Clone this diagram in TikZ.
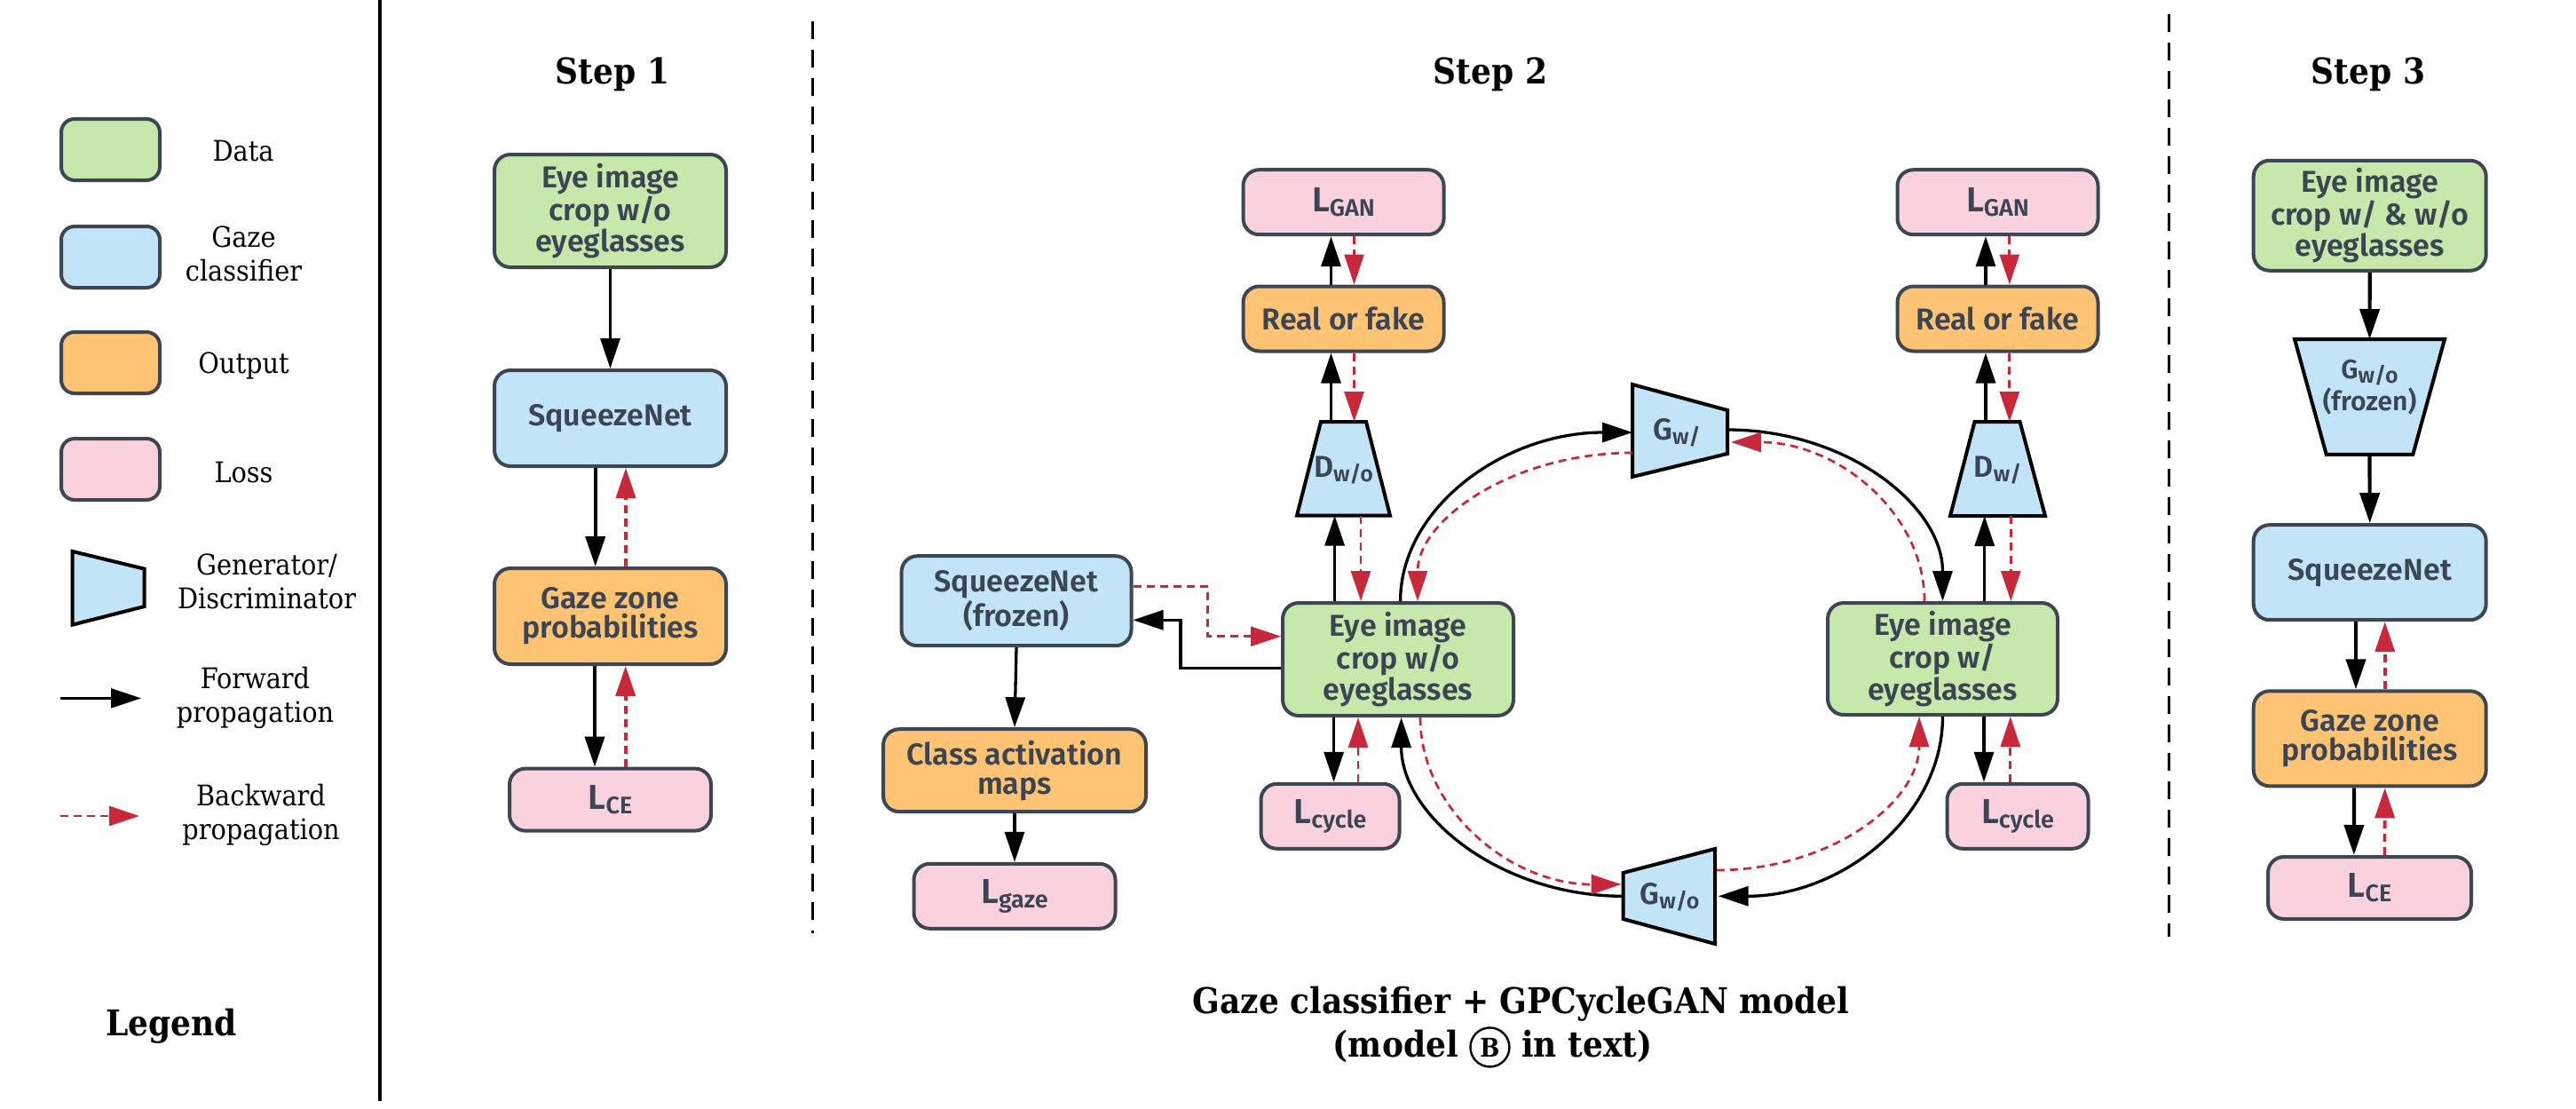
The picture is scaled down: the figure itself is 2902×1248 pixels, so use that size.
\documentclass[tikz,border=0pt]{standalone}
\usepackage{fontspec}
\usetikzlibrary{arrows.meta}
\newfontfamily\bxf{Fira Sans SemiBold}
\newfontfamily\lgf{DejaVu Serif Condensed}
\definecolor{cgreen}{RGB}{198,232,171}
\definecolor{cblue}{RGB}{193,228,246}
\definecolor{corange}{RGB}{254,196,116}
\definecolor{cpink}{RGB}{249,210,222}
\definecolor{bdr}{RGB}{61,70,83}
\definecolor{txt}{RGB}{59,69,83}
\definecolor{cred}{RGB}{201,40,58}
\newcommand\Ls[1]{{\fontsize{19.5}{19.5}\selectfont L}\raisebox{-2.4pt}{\fontsize{13.5}{13.5}\selectfont #1}}
\newcommand\Gs[2]{#1\raisebox{-2.5pt}{\fontsize{12.5}{12.5}\selectfont #2}}
\newcommand\circB{\tikz[baseline=(cb.base)]\node[draw=black,circle,minimum size=22pt,inner sep=0pt,line width=1.2pt](cb){\fontsize{14.5}{14.5}\selectfont B};}
\begin{document}
\begin{tikzpicture}[x=0.5pt,y=-0.5pt,
 box/.style={draw=bdr,line width=2pt,rounded corners=9pt,text=txt,font=\bxf\fontsize{17}{16.5}\selectfont,align=center,inner sep=0pt},
 gbox/.style={box,fill=cgreen}, bbox/.style={box,fill=cblue},
 obox/.style={box,fill=corange}, pbox/.style={box,fill=cpink},
 trap/.style={draw=black,line width=2pt,fill=cblue},
 gt/.style={text=txt,font=\bxf\fontsize{17}{17}\selectfont,align=center,inner sep=0pt},
 fw/.style={draw=black,line width=1.65pt,-{Triangle[length=17pt,width=11pt]}},
 fwb/.style={fw,line width=2.1pt},
 bw/.style={draw=cred,line width=1.35pt,dash pattern=on 4.5pt off 3pt,-{Triangle[length=17pt,width=11pt]}},
 bwb/.style={bw,line width=1.9pt},
 lgt/.style={font=\lgf\fontsize{16}{19}\selectfont,align=center,inner sep=0pt},
 ttl/.style={font=\lgf\bfseries\fontsize{20}{24}\selectfont,inner sep=0pt},
 divd/.style={draw=black,line width=1.5pt,dash pattern=on 10pt off 6pt}]
\useasboundingbox (0,0) rectangle (2902,1248);
% ---------------- Legend ----------------
\node[gbox,minimum width=55.5pt,minimum height=34.5pt,rounded corners=7.5pt] (lgd) at (124.5,168.5) {};
\node[bbox,minimum width=55.5pt,minimum height=34.5pt,rounded corners=7.5pt] (lgg) at (124.5,289.5) {};
\node[obox,minimum width=55.5pt,minimum height=34.5pt,rounded corners=7.5pt] (lgo) at (124.5,408.5) {};
\node[pbox,minimum width=55.5pt,minimum height=34.5pt,rounded corners=7.5pt] (lgl) at (124.5,528.5) {};
\node[lgt,anchor=base] (tdata) at (274,181.7) {Data};
\node[lgt] (tgaze) at (274.5,286) {Gaze\\classifier};
\node[lgt,anchor=base] (tout) at (274.5,420.7) {Output};
\node[lgt,anchor=base] (tloss) at (274.5,543.6) {Loss};
\draw[trap] (81.7,621) -- (162.7,640.7) -- (162.7,683) -- (81.7,703.6) -- cycle;
\node[lgt] (tgen) at (300.5,655) {Generator/\\Discriminator};
\coordinate (fa1) at (68,786.4); \coordinate (fa2) at (159,786.4);
\draw[fw,line width=1.2pt] (fa1) -- (fa2);
\node[lgt] (tfwd) at (287.5,786.3) {Forward\\propagation};
\coordinate (ba1) at (68,919); \coordinate (ba2) at (157,919);
\draw[bw,line width=1.4pt] (ba1) -- (ba2);
\node[lgt] (tbwd) at (294,917.5) {Backward\\propagation};
\node[ttl,anchor=base] (tleg) at (193,1166) {Legend};
\draw[line width=1.7pt] (428,0) -- (428,1240);
% ---------------- Step 1 ----------------
\node[ttl,anchor=base] (t1) at (690,94) {Step 1};
\node[gbox,minimum width=130.5pt,minimum height=63.5pt] (s1in) at (687.5,237.5) {Eye image\\crop w/o\\eyeglasses};
\node[bbox,minimum width=130.5pt,minimum height=54pt] (s1sn) at (687.5,471) {SqueezeNet};
\node[obox,minimum width=130.5pt,minimum height=54pt] (s1gz) at (687.5,694) {Gaze zone\\probabilities};
\node[pbox,minimum width=113.5pt,minimum height=35pt] (s1ce) at (687.5,900.6) {\Ls{CE}};
\draw[fw] (s1in) -- (s1sn);
\draw[fwb] ([xshift=-8.4pt]s1sn.south) -- ([xshift=-8.4pt]s1gz.north);
\draw[bwb] ([xshift=8.75pt]s1gz.north) -- ([xshift=8.75pt]s1sn.south);
\draw[fwb] ([xshift=-8.75pt]s1gz.south) -- ([xshift=-8.75pt]s1ce.north);
\draw[bwb] ([xshift=8.6pt]s1ce.north) -- ([xshift=8.6pt]s1gz.south);
\draw[divd] (915.7,24) -- (915.7,1050.6);
% ---------------- Step 2 ----------------
\node[ttl,anchor=base] (t2) at (1679,94) {Step 2};
% left discriminator column
\node[pbox,minimum width=113pt,minimum height=36.5pt] (lganL) at (1513.5,227.7) {\Ls{GAN}};
\node[obox,minimum width=113pt,minimum height=36.5pt] (rofL) at (1513.5,359) {Real or fake};
\draw[trap] (1488,475) -- (1539,475) -- (1566,580.7) -- (1461,580.7) -- cycle;
\node[gt] (dwo) at (1513.5,530) {\Gs{D}{w/o}};
\coordinate (dwoT) at (1513.5,475); \coordinate (dwoB) at (1513.5,580.7);
% right discriminator column
\node[pbox,minimum width=113pt,minimum height=36.5pt] (lganR) at (2250.5,227.7) {\Ls{GAN}};
\node[obox,minimum width=113pt,minimum height=36.5pt] (rofR) at (2250.5,359) {Real or fake};
\draw[trap] (2224.5,475) -- (2275.5,475) -- (2304,581) -- (2197,581) -- cycle;
\node[gt] (dw) at (2250.5,530) {\Gs{D}{w/}};
\coordinate (dwT) at (2250.5,475); \coordinate (dwB) at (2250.5,581);
% other boxes
\node[bbox,minimum width=129.5pt,minimum height=50.5pt] (snf) at (1145,676.7) {SqueezeNet\\(frozen)};
\node[obox,minimum width=148pt,minimum height=46.5pt] (cam) at (1143,867.7) {Class activation\\maps};
\node[pbox,minimum width=113.5pt,minimum height=36.5pt] (lgz) at (1143,1009.3) {\Ls{gaze}};
\node[gbox,minimum width=130pt,minimum height=63.5pt] (eyewo) at (1575,742.5) {Eye image\\crop w/o\\eyeglasses};
\node[gbox,minimum width=129.5pt,minimum height=63pt] (eyew) at (2188.5,742) {Eye image\\crop w/\\eyeglasses};
\node[pbox,minimum width=78pt,minimum height=36.5pt] (lcycL) at (1498.5,919.3) {\Ls{cycle}};
\node[pbox,minimum width=79.5pt,minimum height=36.5pt] (lcycR) at (2273,919.3) {\Ls{cycle}};
% generators
\draw[trap] (1839,433) -- (1946,462) -- (1946,511) -- (1839,537) -- cycle;
\node[gt] (gw) at (1889,487) {\Gs{G}{w/}};
\draw[trap] (1828.6,983) -- (1932,956) -- (1932,1063) -- (1828.6,1035) -- cycle;
\node[gt] (gwo) at (1881,1010) {\Gs{G}{w/o}};
\coordinate (gwL1) at (1839,487); \coordinate (gwL2) at (1839,510);
\coordinate (gwR1) at (1946,484); \coordinate (gwR2) at (1950,498);
\coordinate (gwoR1) at (1935.7,1009.3); \coordinate (gwoR2) at (1934,980);
\coordinate (gwoL1) at (1828.6,1009.3); \coordinate (gwoL2) at (1826.5,996);
% discriminator arrows left
\draw[fw] ([xshift=-7pt]rofL.north) -- ([xshift=-7pt]lganL.south);
\draw[bw] ([xshift=6pt]lganL.south) -- ([xshift=6pt]rofL.north);
\draw[fw] ([xshift=-7pt]dwoT) -- ([xshift=-7pt]rofL.south);
\draw[bw] ([xshift=6pt]rofL.south) -- ([xshift=6pt]dwoT);
\draw[fw] ([xshift=-35.7pt]eyewo.north) -- ([xshift=-4.95pt]dwoB);
\draw[bw] ([xshift=9.75pt]dwoB) -- ([xshift=-21pt]eyewo.north);
% discriminator arrows right
\draw[fw] ([xshift=-6.75pt]rofR.north) -- ([xshift=-6.75pt]lganR.south);
\draw[bw] ([xshift=6.65pt]lganR.south) -- ([xshift=6.65pt]rofR.north);
\draw[fw] ([xshift=-6.75pt]dwT) -- ([xshift=-6.75pt]rofR.south);
\draw[bw] ([xshift=6.65pt]rofR.south) -- ([xshift=6.65pt]dwT);
\draw[fw] ([xshift=23.6pt]eyew.north) -- ([xshift=-7.4pt]dwB);
\draw[bw] ([xshift=7.4pt]dwB) -- ([xshift=38.4pt]eyew.north);
% cycle losses
\draw[fw] ([xshift=-36.2pt]eyewo.south) -- ([xshift=2.05pt]lcycL.north);
\draw[bw] ([xshift=15.75pt]lcycL.north) -- ([xshift=-22.5pt]eyewo.south);
\draw[fw] ([xshift=23.25pt]eyew.south) -- ([xshift=-19pt]lcycR.north);
\draw[bw] ([xshift=-4.1pt]lcycR.north) -- ([xshift=38.15pt]eyew.south);
% gaze classifier branch
\draw[fw] (snf.south) -- (cam.north);
\draw[fw] (cam.south) -- (lgz.north);
\coordinate (k1) at (1330,725); \coordinate (k2) at (1360.7,690);
\draw[fw] ([yshift=-5.1pt]eyewo.west) -| (k1) |- ([yshift=-10.8pt]snf.east);
\draw[bw] ([yshift=8pt]snf.east) -| (k2) |- ([yshift=12.9pt]eyewo.west);
% cycle loop, forward
\draw[fw] ([xshift=1.3pt]eyewo.north) .. controls (1577.6,572) and (1694,487) .. (gwL1);
\draw[fw] (gwR1) .. controls (2080,484) and (2188.5,569) .. (eyew.north);
\draw[fw] (eyew.south) .. controls (2188.5,919) and (2075.5,1009.3) .. (gwoR1);
\draw[fw] (gwoL1) .. controls (1690.5,1009.3) and (1578.6,919) .. ([xshift=1.8pt]eyewo.south);
% cycle loop, backward
\draw[bw] (gwL2) .. controls (1705.3,510) and (1597,584.8) .. ([xshift=11pt]eyewo.north);
\draw[bw] ([xshift=-10.25pt]eyew.north) .. controls (2168,578) and (2070.4,498) .. (gwR2);
\draw[bw] (gwoR2) .. controls (2060.8,980) and (2162,904.3) .. ([xshift=-13.25pt]eyew.south);
\draw[bw] ([xshift=12.5pt]eyewo.south) .. controls (1600,911.8) and (1701.4,996) .. (gwoL2);
\draw[divd] (2443,16) -- (2443,1055);
% caption
\node[ttl,anchor=base] (cap1) at (1713.5,1141.5) {Gaze classifier + GPCycleGAN model};
\node[ttl,anchor=base] (cap2) at (1681.5,1190) {(model \circB\ in text)};
% ---------------- Step 3 ----------------
\node[ttl,anchor=base] (t3) at (2668,94) {Step 3};
\node[gbox,minimum width=131pt,minimum height=62pt] (s3in) at (2669.7,242.8) {Eye image\\crop w/ \& w/o\\eyeglasses};
\draw[trap] (2585,382) -- (2754,382) -- (2718.3,511.8) -- (2620.7,511.8) -- cycle;
\node[gt,font=\bxf\fontsize{15}{15.6}\selectfont] (s3g) at (2669.5,436) {\Gs{G}{w/o}\\(frozen)};
\coordinate (s3tT) at (2669.5,382); \coordinate (s3tB) at (2669.5,511.8);
\node[bbox,minimum width=131pt,minimum height=53.5pt] (s3sn) at (2669.7,644.7) {SqueezeNet};
\node[obox,minimum width=131pt,minimum height=53.5pt] (s3gz) at (2669.7,831.8) {Gaze zone\\probabilities};
\node[pbox,minimum width=114.5pt,minimum height=35pt] (s3ce) at (2669.5,1000) {\Ls{CE}};
\draw[fwb] (s3in.south) -- (s3tT);
\draw[fwb] (s3tB) -- (s3sn.north);
\draw[fwb] ([xshift=-7.85pt]s3sn.south) -- ([xshift=-7.85pt]s3gz.north);
\draw[bwb] ([xshift=8.5pt]s3gz.north) -- ([xshift=8.5pt]s3sn.south);
\draw[fwb] ([xshift=-8.85pt]s3gz.south) -- ([xshift=-8.85pt]s3ce.north);
\draw[bwb] ([xshift=8.5pt]s3ce.north) -- ([xshift=8.5pt]s3gz.south);
\end{tikzpicture}
\end{document}
